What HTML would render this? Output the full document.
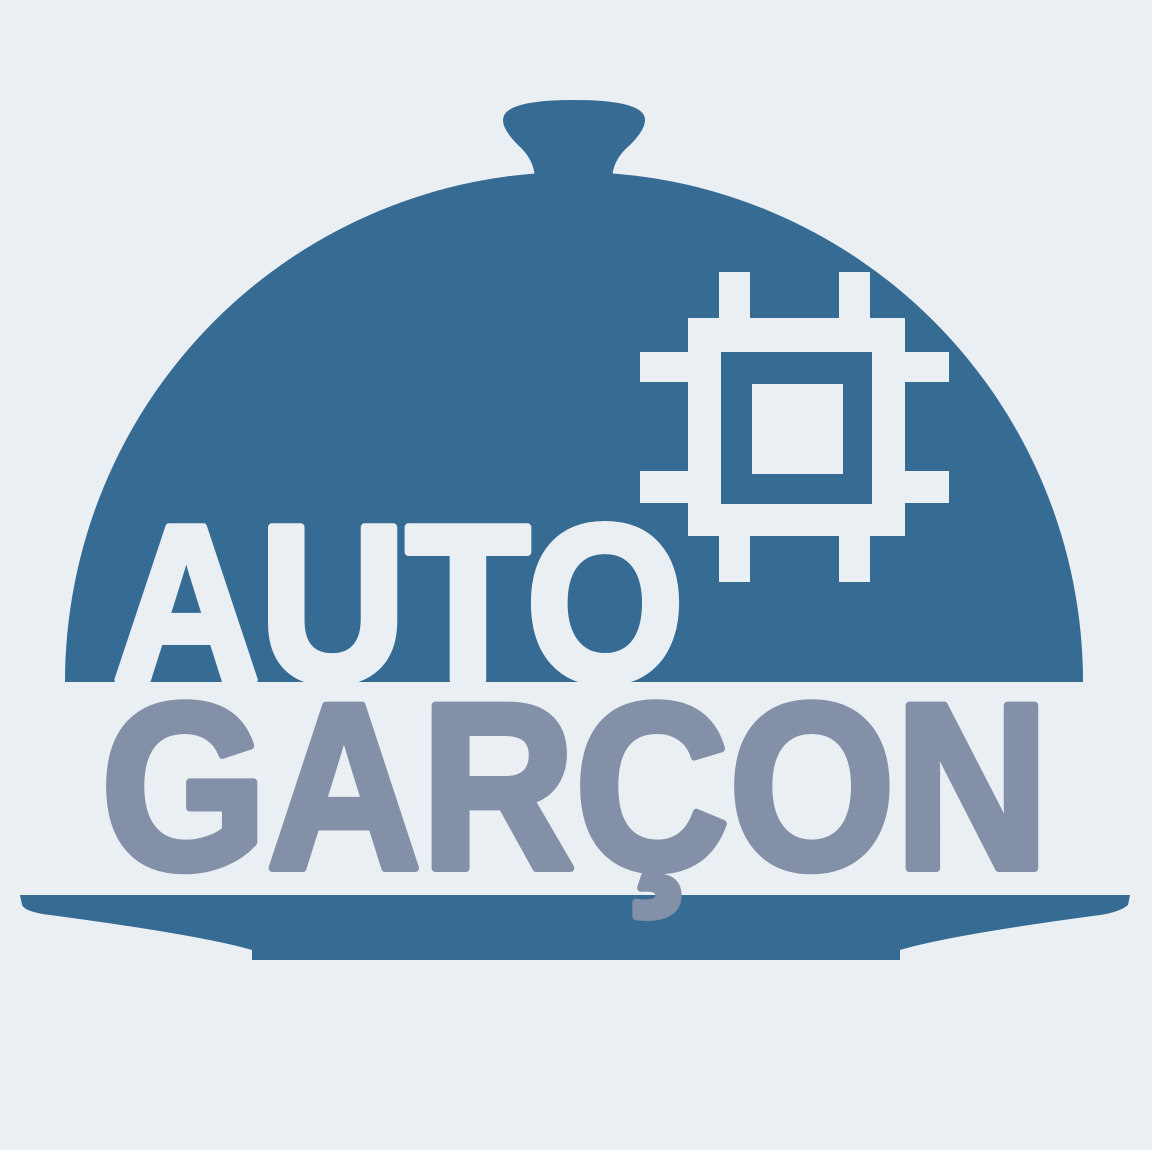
<!DOCTYPE html>
<html><head><meta charset="utf-8"><style>
html,body{margin:0;padding:0;background:#e9eff3;}
svg{display:block}
</style></head><body>
<svg width="1152" height="1150" viewBox="0 0 1152 1150">
<rect x="0" y="0" width="1152" height="1150" fill="#e9eff3"/>
<path fill="#366b93" d="M65,682 A509,510 0 0 1 1083,682 Z"/>
<path fill="#366b93" d="M503,120 Q503,100 574,100 Q645,100 645,120 Q645,130 630,145 Q612,160 612,180 L535,180 Q535,160 518,145 Q503,130 503,120 Z"/>
<g fill="#e9eff3">
<path fill-rule="evenodd" d="M688,318 H905 V536 H688 Z M721,352 V504 H872 V352 Z"/>
<rect x="752" y="384" width="91" height="90"/>
<rect x="719" y="272" width="31" height="46"/>
<rect x="839" y="272" width="31" height="46"/>
<rect x="719" y="536" width="31" height="46"/>
<rect x="839" y="536" width="31" height="46"/>
<rect x="640" y="352" width="48" height="30"/>
<rect x="640" y="471" width="48" height="32"/>
<rect x="905" y="352" width="44" height="30"/>
<rect x="905" y="471" width="44" height="32"/>
</g>
<text x="113" y="680" font-family="Liberation Sans, sans-serif" font-weight="bold" font-size="222" fill="#e9eff3" stroke="#e9eff3" stroke-width="8" stroke-linejoin="round" textLength="571" lengthAdjust="spacingAndGlyphs">AUTO</text>
<path fill="#366b93" d="M20,895 L1130,895 L1128,905 Q1120,912 1100,915 Q950,935 900,950 L900,960 L252,960 L252,950 Q200,935 50,915 Q25,912 22,905 Z"/>
<text x="101" y="868" font-family="Liberation Sans, sans-serif" font-weight="bold" font-size="236" fill="#8390a8" stroke="#8390a8" stroke-width="8" stroke-linejoin="round" textLength="948" lengthAdjust="spacingAndGlyphs">GARÇON</text>
</svg>
</body></html>
